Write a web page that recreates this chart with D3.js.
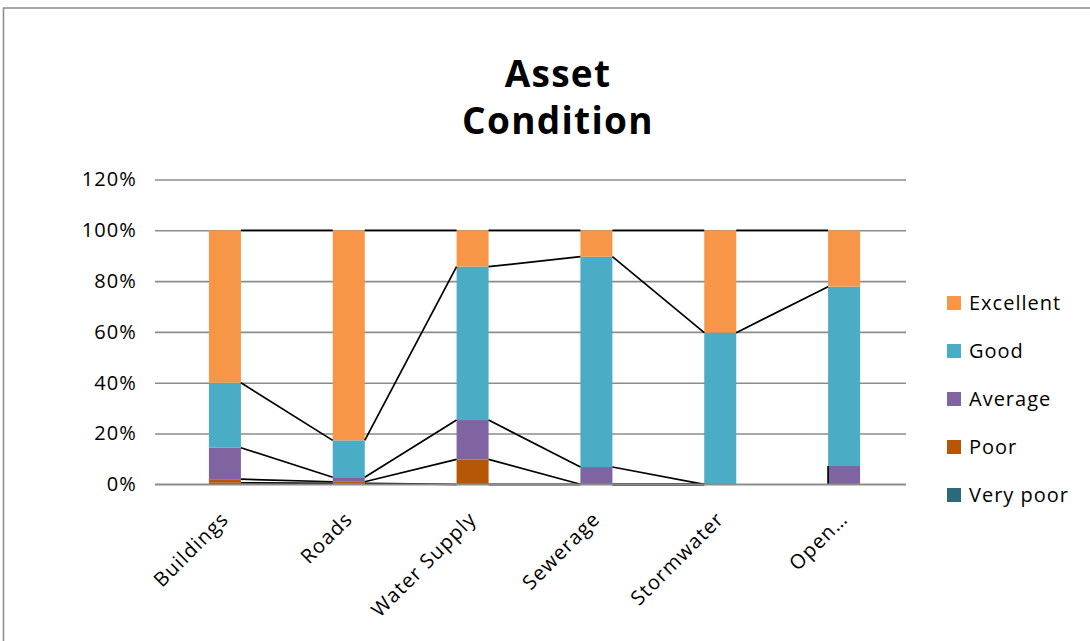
<!DOCTYPE html>
<html>
<head>
<meta charset="utf-8">
<script src="https://cdn.jsdelivr.net/npm/d3@7"></script>
<style>
  html, body { margin: 0; padding: 0; background: #ffffff; }
  svg { display: block; }
  text { font-family: "Open Sans", "Noto Sans", sans-serif; fill: #000; }
</style>
</head>
<body>
<svg id="chart" width="1090" height="641"></svg>
<script>
// Asset condition by asset class, share of each condition grade (fraction of 1)
const categories = ["Buildings", "Roads", "Water Supply", "Sewerage", "Stormwater", "Open Space"];
const tickLabels = ["Buildings", "Roads", "Water Supply", "Sewerage", "Stormwater", "Open…"];
const seriesNames = ["Very poor", "Poor", "Average", "Good", "Excellent"];
const veryPoor  = [0.006, 0.004, 0.000, 0.000, null, 0.000];
const poor      = [0.014, 0.006, 0.098, 0.000, null, 0.000];
const average   = [0.124, 0.018, 0.155, 0.068, null, 0.072];
const good      = [0.256, 0.145, 0.604, 0.828, 0.597, 0.706];
const excellent = [0.600, 0.827, 0.143, 0.104, 0.403, 0.222];
const yTicks = [0, 0.2, 0.4, 0.6, 0.8, 1.0, 1.2];
const colors = ["#296b7c", "#b65708", "#8064a2", "#4bacc6", "#f79646"];

const seriesValues = [veryPoor, poor, average, good, excellent];
const rows = categories.map((c, i) => {
  const r = { category: c };
  seriesNames.forEach((s, k) => { r[s] = seriesValues[k][i]; });
  return r;
});

const svg = d3.select("#chart");

// chart frame
svg.append("rect")
  .attr("x", 3.5).attr("y", 8)
  .attr("width", 1200).attr("height", 700)
  .attr("fill", "#ffffff")
  .attr("stroke", "#8a8a8a").attr("stroke-width", 1.5);

const plotLeft = 163, plotRight = 906, tickStart = 155;
const x = d3.scaleBand().domain(categories).range([plotLeft, plotRight])
  .paddingInner(0.7415).paddingOuter(0.37075);
const y = d3.scaleLinear().domain([0, 1.2]).range([484.3, 179.5]);

const stack = d3.stack().keys(seriesNames).value((d, k) => d[k] == null ? 0 : d[k]);
const stacked = stack(rows);

// gridlines + y labels
const yAxis = d3.axisLeft(y)
  .tickValues(yTicks)
  .tickFormat(d3.format(".0%"))
  .tickSizeInner(-(plotRight - tickStart))
  .tickSizeOuter(0)
  .tickPadding(18);
const gy = svg.append("g").attr("transform", `translate(${tickStart},0)`).call(yAxis);
gy.select(".domain").remove();
gy.selectAll(".tick line").attr("stroke", "#8c8c8c").attr("stroke-width", 1.6);
gy.selectAll(".tick text")
  .attr("font-size", 20).attr("letter-spacing", 1.1)
  .attr("font-family", "'Open Sans', sans-serif").attr("fill", "#000");

// stacked bars
const layers = svg.append("g").selectAll("g").data(stacked).join("g")
  .attr("fill", (d, i) => colors[i]);
layers.selectAll("rect")
  .data(d => d.map(p => ({ p, key: d.key })).filter(o => o.p.data[o.key] != null && o.p.data[o.key] > 0))
  .join("rect")
  .attr("x", o => x(o.p.data.category))
  .attr("width", x.bandwidth())
  .attr("y", o => y(o.p[1]))
  .attr("height", o => y(o.p[0]) - y(o.p[1]));

// series lines joining the top of each segment across neighbouring bars
const lines = svg.append("g").attr("stroke", "#000").attr("stroke-width", 1.7).attr("fill", "none");
stacked.forEach(layer => {
  for (let i = 0; i < categories.length - 1; i++) {
    const a = layer[i], b = layer[i + 1];
    const xa = x(categories[i]) + x.bandwidth();
    const xb = x(categories[i + 1]);
    if (a.data[layer.key] != null) {
      lines.append("line")
        .attr("x1", xa).attr("y1", y(a[1]))
        .attr("x2", xb).attr("y2", y(b[1]));
    } else if (b.data[layer.key] != null) {
      lines.append("line")
        .attr("x1", xb).attr("y1", y(b[0]))
        .attr("x2", xb).attr("y2", y(b[1]));
    }
  }
});

// zero axis line on top of the bars
svg.append("line")
  .attr("x1", tickStart).attr("x2", plotRight)
  .attr("y1", y(0)).attr("y2", y(0))
  .attr("stroke", "#8c8c8c").attr("stroke-width", 1.6);

// category labels
const xAxis = d3.axisBottom(x).tickSize(0).tickFormat((d, i) => tickLabels[i]);
const gx = svg.append("g").attr("transform", `translate(0,${y(0)})`).call(xAxis);
gx.select(".domain").remove();
gx.selectAll(".tick text")
  .attr("font-size", 20).attr("letter-spacing", 1.2)
  .attr("font-family", "'Open Sans', sans-serif").attr("fill", "#000")
  .attr("text-anchor", "end")
  .attr("dy", null).attr("y", null)
  .attr("transform", "translate(5,36) rotate(-45)");

// title
const title = svg.append("text")
  .attr("x", 558).attr("text-anchor", "middle")
  .attr("font-size", 37).attr("font-weight", "bold").attr("letter-spacing", 1.3);
title.append("tspan").attr("x", 558).attr("y", 87).text("Asset");
title.append("tspan").attr("x", 558).attr("y", 134).text("Condition");

// legend, top entry first
const legendOrder = seriesNames.map((s, i) => ({ s, c: colors[i] })).reverse();
const lg = svg.append("g").selectAll("g").data(legendOrder).join("g")
  .attr("transform", (d, i) => `translate(947,${303 + i * 48})`);
lg.append("rect").attr("x", 0).attr("y", -7).attr("width", 14).attr("height", 14).attr("fill", d => d.c);
lg.append("text").attr("x", 22).attr("y", 0).attr("dy", "0.35em")
  .attr("font-size", 20).attr("letter-spacing", 1).text(d => d.s);
</script>
</body>
</html>
